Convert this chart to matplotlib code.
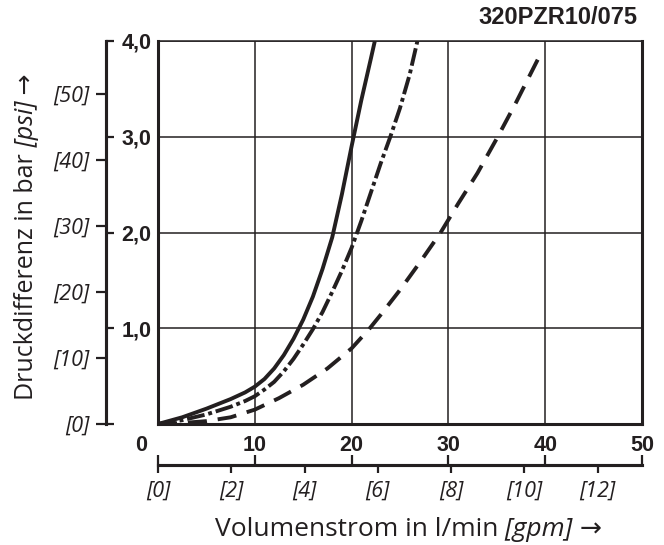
import matplotlib.pyplot as plt

INK = "#231f20"
LMIN_PER_GPM = 3.785
PSI_PER_BAR = 14.5038

NARROW = ["Liberation Sans Narrow", "DejaVu Sans Condensed", "Liberation Sans"]
SANS = ["Open Sans", "DejaVu Sans"]

# curve values: flow in l/min, pressure difference in bar
flow_solid = [0, 2.5, 5, 7.5, 9, 10, 11, 12, 13, 14, 15, 16, 17, 18, 19, 20, 21,
              22, 22.4]
dp_solid = [0, 0.07, 0.16, 0.26, 0.33, 0.39, 0.47, 0.58, 0.72, 0.89, 1.09, 1.33,
            1.62, 1.95, 2.40, 2.90, 3.38, 3.82, 4.0]

flow_dashdot = [0, 2.5, 5, 7.5, 9, 10, 11, 12, 13, 14, 15, 16, 17, 18, 19, 20, 21,
                22, 23, 24, 25, 26, 26.8]
dp_dashdot = [0, 0.04, 0.10, 0.18, 0.24, 0.29, 0.36, 0.44, 0.55, 0.68, 0.83, 0.99,
              1.17, 1.38, 1.60, 1.84, 2.12, 2.42, 2.72, 3.0, 3.3, 3.65, 4.0]

flow_dashed = [0, 2.5, 5, 7.5, 10, 12.5, 15, 17.5, 20, 21.8, 23, 25, 27, 29.2, 31,
               33, 35.1, 37, 39.7]
dp_dashed = [0, 0.01, 0.03, 0.07, 0.15, 0.27, 0.41, 0.58, 0.79, 0.99, 1.14, 1.40,
             1.68, 2.0, 2.30, 2.62, 3.0, 3.36, 3.9]

# axis scales
lmin_ticks = [0, 10, 20, 30, 40, 50]
lmin_labels = ["", "10", "20", "30", "40", "50"]
gpm_ticks = [0, 2, 4, 6, 8, 10, 12]
gpm_labels = ["[0]", "[2]", "[4]", "[6]", "[8]", "[10]", "[12]"]
bar_ticks = [0, 1, 2, 3, 4]
bar_labels = ["", "1,0", "2,0", "3,0", "4,0"]
psi_ticks = [0, 10, 20, 30, 40, 50]
psi_labels = ["[0]", "[10]", "[20]", "[30]", "[40]", "[50]"]

fig = plt.figure(figsize=(6.64, 5.45), dpi=100)
ax = fig.add_axes([158 / 664, 121 / 545, 484 / 664, 383 / 545])
ax.set_xlim(0, 50)
ax.set_ylim(0, 4)

# curves
ax.plot(flow_solid, dp_solid, color=INK, lw=2.8, solid_capstyle="butt",
        solid_joinstyle="round", zorder=3)
ax.plot(flow_dashdot, dp_dashdot, color=INK, lw=2.8, dash_capstyle="butt",
        dashes=(4.6, 1.0, 1.0, 1.0), zorder=3)
ax.plot(flow_dashed, dp_dashed, color=INK, lw=2.8, dash_capstyle="butt",
        dashes=(4.9, 2.8), zorder=3)

# grid and frame
ax.set_xticks(lmin_ticks, lmin_labels, fontfamily=NARROW, fontweight="bold",
              fontsize=15.5, color=INK)
ax.set_yticks(bar_ticks, [])
ax.grid(True, color=INK, lw=1.1)
ax.tick_params(length=0, pad=8)
for side in ["left", "bottom", "right"]:
    ax.spines[side].set_linewidth(2.2)
    ax.spines[side].set_color(INK)
ax.spines["top"].set_linewidth(1.1)
ax.spines["top"].set_color(INK)
ax.annotate("0", xy=(0, 0), xycoords="data", xytext=(-11, -11),
            textcoords="offset pixels", ha="right", va="top",
            fontfamily=NARROW, fontweight="bold", fontsize=15.5, color=INK)

# left scale: bar to the right of the line, psi to the left
left_pos = -52 / 484
sec_bar = ax.secondary_yaxis(left_pos)
sec_bar.set_alignment("right")
sec_bar.set_yticks(bar_ticks, bar_labels, fontfamily=NARROW, fontweight="bold",
                   fontsize=15.5, color=INK)
sec_bar.tick_params(length=6, width=1.6, color=INK, pad=5)
sec_bar.spines["right"].set_linewidth(2.2)
sec_bar.spines["right"].set_color(INK)

sec_psi = ax.secondary_yaxis(left_pos, functions=(lambda b: b * PSI_PER_BAR,
                                                  lambda p: p / PSI_PER_BAR))
sec_psi.set_alignment("left")
sec_psi.set_yticks(psi_ticks, psi_labels, fontfamily=SANS, fontstyle="italic",
                   fontsize=15.5, color=INK)
sec_psi.tick_params(length=7, width=1.6, color=INK, pad=5)
sec_psi.spines["left"].set_linewidth(2.2)
sec_psi.spines["left"].set_color(INK)

# bottom scale: l/min ticks upward, gpm ticks and labels downward
low_pos = -41 / 383
sec_lmin = ax.secondary_xaxis(low_pos)
sec_lmin.set_alignment("top")
sec_lmin.set_xticks(lmin_ticks, [])
sec_lmin.tick_params(length=7, width=1.6, color=INK)
sec_lmin.spines["top"].set_linewidth(2.2)
sec_lmin.spines["top"].set_color(INK)

sec_gpm = ax.secondary_xaxis(low_pos, functions=(lambda q: q / LMIN_PER_GPM,
                                                 lambda g: g * LMIN_PER_GPM))
sec_gpm.set_alignment("bottom")
sec_gpm.set_xticks(gpm_ticks, gpm_labels, fontfamily=SANS, fontstyle="italic",
                   fontsize=15.5, color=INK)
sec_gpm.tick_params(length=6, width=1.6, color=INK, pad=5)
sec_gpm.spines["bottom"].set_linewidth(2.2)
sec_gpm.spines["bottom"].set_color(INK)

# axis titles, built from pieces so the unit can be italic
xl1 = fig.text(215 / 664, 9 / 545, "Volumenstrom in l/min", fontfamily=SANS,
               fontsize=19, color=INK, ha="left", va="baseline")
xl2 = ax.annotate(" [gpm]", xy=(1, 0), xycoords=xl1, ha="left", va="bottom",
                  fontfamily=SANS, fontstyle="italic", fontsize=19, color=INK)
ax.annotate(" →", xy=(1, 0), xycoords=xl2, ha="left", va="bottom",
            fontfamily=SANS, fontsize=19, color=INK)

yl1 = fig.text(33 / 664, 145 / 545, "Druckdifferenz in bar", fontfamily=SANS,
               fontsize=18, color=INK, rotation=90, rotation_mode="anchor",
               ha="left", va="baseline")
yl2 = ax.annotate(" [psi]", xy=(1, 1), xycoords=yl1, ha="left", va="bottom",
                  rotation=90, rotation_mode="anchor", fontfamily=SANS,
                  fontstyle="italic", fontsize=18, color=INK)
ax.annotate(" →", xy=(1, 1), xycoords=yl2, ha="left", va="bottom", rotation=90,
            rotation_mode="anchor", fontfamily=SANS, fontsize=18, color=INK)

fig.text(637 / 664, 527 / 545, "320PZR10/075", ha="right", va="center",
         fontfamily=["Liberation Sans", "DejaVu Sans"], fontweight="bold",
         fontsize=17, color=INK)

plt.savefig("out.png", dpi=100)
